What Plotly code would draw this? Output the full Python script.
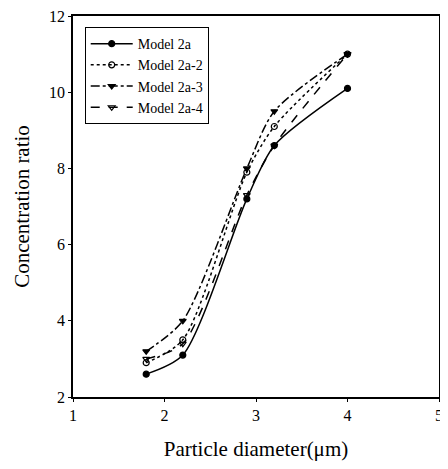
import plotly.graph_objects as go

x_vals = [1.8, 2.2, 2.9, 3.2, 4.0]
model_2a = [2.6, 3.1, 7.2, 8.6, 10.1]
model_2a_2 = [2.9, 3.5, 7.9, 9.1, 11.0]
model_2a_3 = [3.2, 4.0, 8.0, 9.5, 11.0]
model_2a_4 = [3.0, 3.4, 7.3, 8.6, 11.0]

series = [
    ("Model 2a", model_2a, "solid", "circle"),
    ("Model 2a-2", model_2a_2, "dot", "circle-open"),
    ("Model 2a-3", model_2a_3, "dashdot", "triangle-down"),
    ("Model 2a-4", model_2a_4, "dash", "triangle-down-open"),
]

fig = go.Figure()
for name, ys, dash, sym in series:
    fig.add_trace(go.Scatter(
        x=x_vals, y=ys, name=name, mode="lines+markers",
        line=dict(color="black", width=1.5, dash=dash, shape="spline", smoothing=0.75),
        marker=dict(symbol=sym, size=6, color="black", line=dict(color="black", width=1.2)),
    ))

font_family = "Liberation Serif"
# page body has an 8px margin; size the figure so the page fits the window exactly
fig.update_layout(
    width=432, height=453,
    margin=dict(l=65, r=1, t=8, b=64),
    paper_bgcolor="white", plot_bgcolor="white",
    font=dict(family=font_family, color="black", size=16),
    showlegend=True,
    legend=dict(
        x=0.032, y=0.971, xanchor="left", yanchor="top",
        bordercolor="black", borderwidth=1, bgcolor="white",
        font=dict(family=font_family, size=14, color="black"),
        tracegroupgap=0, itemwidth=42,
    ),
    xaxis=dict(
        range=[1, 5], tickvals=[1, 2, 3, 4, 5], automargin=False,
        ticklabeloverflow="allow",
        showline=True, linecolor="black", linewidth=1.5, mirror=True,
        showgrid=False, zeroline=False, ticks="outside", ticklen=3, tickcolor="black",
        title=dict(text="Particle diameter(μm)", font=dict(family=font_family, size=21), standoff=20),
        tickfont=dict(family=font_family, size=16),
    ),
    yaxis=dict(
        range=[2, 12], tickvals=[2, 4, 6, 8, 10, 12], automargin=False,
        ticklabeloverflow="allow",
        showline=True, linecolor="black", linewidth=1.5, mirror=True,
        showgrid=False, zeroline=False, ticks="outside", ticklen=3, tickcolor="black",
        title=dict(text="Concentration ratio", font=dict(family=font_family, size=21), standoff=14),
        tickfont=dict(family=font_family, size=16),
    ),
)

fig.write_html("out.html")
